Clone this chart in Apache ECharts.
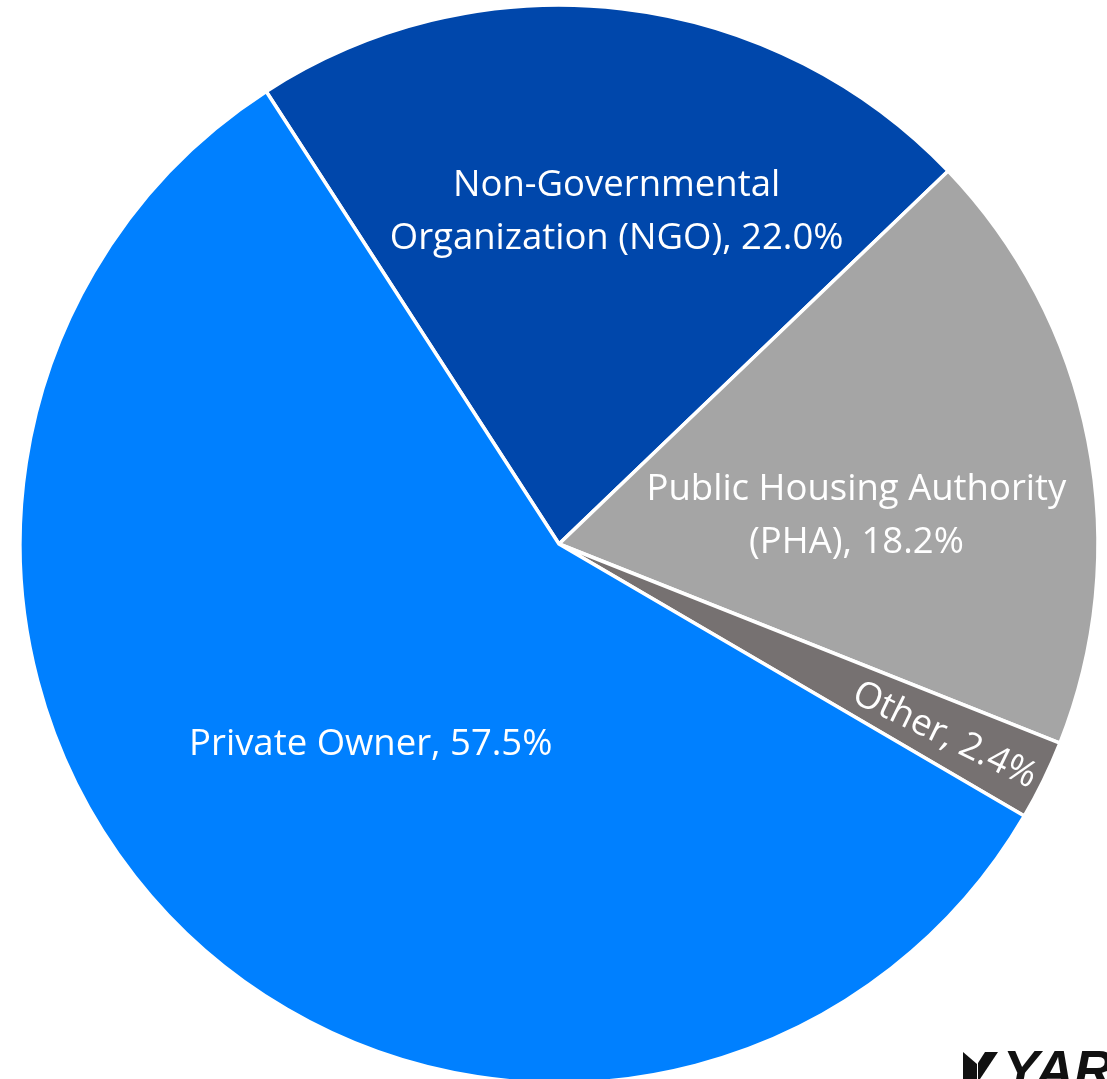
<!DOCTYPE html>
<html>
<head>
<meta charset="utf-8">
<title>Owner Type Share</title>
<script src="https://cdn.jsdelivr.net/npm/echarts@6/dist/echarts.min.js"></script>
<style>
  html, body { margin: 0; padding: 0; background: #ffffff; }
  #chart { width: 1107px; height: 1079px; }
</style>
</head>
<body>
<div id="chart"></div>
<script>
// Owner categories, clockwise from the top-left boundary
const categories = [
  'Non-Governmental\nOrganization (NGO)',
  'Public Housing Authority\n(PHA)',
  'Other',
  'Private Owner'
];
// Share of units, percent
const shares = [22.0, 18.2, 2.4, 57.5];
const sliceColors = ['#0047AB', '#A5A5A5', '#767171', '#0080FF'];

// Label nudges away from the default mid-radius anchor
// (the rotated label is nudged in its own rotated frame)
const labelNudge = [[26, -61], [30, 24], [158, 3], [0, 4]];

const chart = echarts.init(document.getElementById('chart'), null, { renderer: 'canvas' });

const data = categories.map((name, i) => {
  const item = {
    name: name,
    value: shares[i],
    itemStyle: { color: sliceColors[i] }
  };
  if (name === 'Other') {
    item.label = { rotate: 'radial' };
  }
  return item;
});

chart.setOption({
  animation: false,
  backgroundColor: '#ffffff',
  series: [{
    type: 'pie',
    center: [559, 544],
    radius: [0, 539],
    startAngle: 122.9,
    clockwise: true,
    avoidLabelOverlap: false,
    data: data,
    itemStyle: { borderColor: '#ffffff', borderWidth: 3.5 },
    label: {
      show: true,
      position: 'inside',
      color: '#ffffff',
      fontFamily: 'Open Sans',
      fontSize: 36.5,
      lineHeight: 53,
      align: 'center',
      formatter: p => p.name + ', ' + p.value.toFixed(1) + '%'
    },
    labelLine: { show: false },
    labelLayout: function (p) {
      const n = labelNudge[p.dataIndex];
      return { dx: n[0], dy: n[1] };
    },
    emphasis: { disabled: true }
  }],
  graphic: [
    {
      type: 'polygon',
      shape: { points: [[963, 1052], [977, 1064], [977, 1079], [963, 1079]] },
      style: { fill: '#111111' }
    },
    {
      type: 'polygon',
      shape: { points: [[985, 1052], [998, 1052], [980, 1079], [978, 1079], [978, 1063]] },
      style: { fill: '#111111' }
    },
    {
      type: 'text',
      x: 1003,
      y: 1046,
      style: {
        text: 'YARDI',
        fill: '#111111',
        font: 'italic bold 54px "Liberation Sans", Arial, sans-serif'
      }
    }
  ]
});
</script>
</body>
</html>
